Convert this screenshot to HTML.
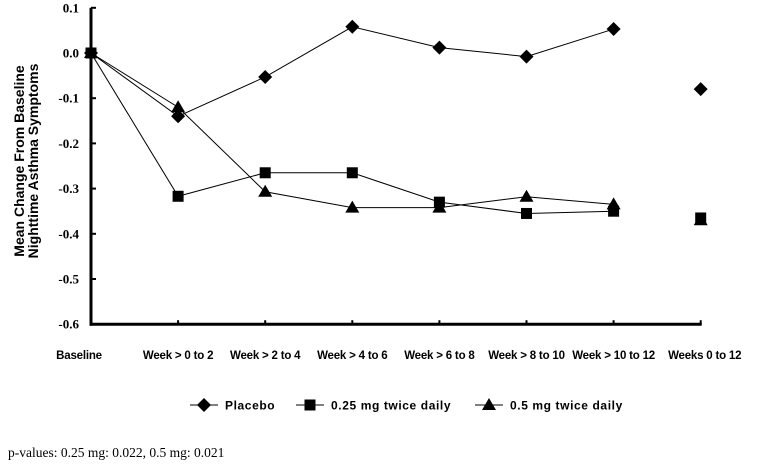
<!DOCTYPE html>
<html><head><meta charset="utf-8"><style>
html,body{margin:0;padding:0;background:#fff;}
svg{display:block;}
</style></head><body>
<svg id="chart" width="760" height="474" viewBox="0 0 760 474" xmlns="http://www.w3.org/2000/svg"></svg>
<script>
const categories = ["Baseline","Week > 0 to 2","Week > 2 to 4","Week > 4 to 6","Week > 6 to 8","Week > 8 to 10","Week > 10 to 12","Weeks 0 to 12"];
const placebo = [0, -0.14, -0.053, 0.058, 0.012, -0.008, 0.053, -0.08];
const dose025 = [0, -0.317, -0.265, -0.265, -0.33, -0.355, -0.35, -0.365];
const dose05 = [0, -0.12, -0.307, -0.342, -0.342, -0.318, -0.335, -0.37];
const yTicks = [0.1, 0.0, -0.1, -0.2, -0.3, -0.4, -0.5, -0.6];
const yTickLabels = ["0.1","0.0","-0.1","-0.2","-0.3","-0.4","-0.5","-0.6"];

const NS="http://www.w3.org/2000/svg";
const svg=document.getElementById('chart');
function x(i){return 91+i*87.1;}
function y(v){return 53-v*452;}
function mk(tag,attrs,parent){const e=document.createElementNS(NS,tag);for(const k in attrs)e.setAttribute(k,attrs[k]);(parent||svg).appendChild(e);return e;}
const F='"Liberation Sans", Arial, sans-serif';
const FS='"Liberation Serif", serif';

let e=mk('line',{x1:91,y1:y(0.1),x2:91,y2:y(-0.6)+1.5,stroke:'#000','stroke-width':3});


e=mk('line',{x1:89.5,y1:y(-0.6),x2:x(7)+1,y2:y(-0.6),stroke:'#000','stroke-width':3});


yTicks.forEach((t,i)=>{
  let l=mk('line',{x1:91,y1:y(t),x2:96,y2:y(t),stroke:'#000','stroke-width':2});
  
  
  let tx=mk('text',{x:79,y:y(t)+4.5,'text-anchor':'end','font-family':FS,'font-size':13,'font-weight':'bold',fill:'#000'});
  tx.textContent=yTickLabels[i];
  
  
});
categories.forEach((c,i)=>{
  if(i>0){let l=mk('line',{x1:x(i),y1:y(-0.6)-4,x2:x(i),y2:y(-0.6),stroke:'#000','stroke-width':2});
  
  }
  let tx=mk('text',{x:x(i)+(i==0?-12:0)+(i==7?4:0),y:359,'text-anchor':'middle','font-family':F,'font-size':11.5,'font-weight':'bold','letter-spacing':-0.2,fill:'#000'});
  tx.textContent=c;
  
  
});
let g=mk('g',{transform:'translate(26,161) rotate(-90)'});


let t1=mk('text',{x:0,y:-2,'text-anchor':'middle','font-family':F,'font-size':14,'font-weight':'bold'},g);t1.textContent='Mean Change From Baseline';
let t2=mk('text',{x:0,y:12,'text-anchor':'middle','font-family':F,'font-size':14,'font-weight':'bold'},g);t2.textContent='Nighttime Asthma Symptoms';

function marker(type,cx,cy,parent){
  if(type==='d') return mk('polygon',{points:`${cx},${cy-7} ${cx+7},${cy} ${cx},${cy+7} ${cx-7},${cy}`,fill:'#000'},parent);
  if(type==='s') return mk('rect',{x:cx-5.5,y:cy-5.5,width:11,height:11,fill:'#000'},parent);
  return mk('polygon',{points:`${cx},${cy-7} ${cx+7},${cy+5} ${cx-7},${cy+5}`,fill:'#000'},parent);
}
function series(vals,type,name){
  const grp=mk('g',{});
  
  
  const pts=vals.slice(0,7).map((v,i)=>x(i)+','+y(v)).join(' ');
  mk('polyline',{points:pts,fill:'none',stroke:'#000','stroke-width':1},grp);
  vals.forEach((v,i)=>{
    const m=marker(type,x(i),y(v),grp);
    
    
  });
}
series(placebo,'d','placebo-series');
series(dose025,'s','dose-025-series');
series(dose05,'t','dose-05-series');

const leg=[['d',190,'Placebo'],['s',296,'0.25 mg twice daily'],['t',475,'0.5 mg twice daily']];
leg.forEach(([tp,lx,lab])=>{
  const lg=mk('g',{});
  
  
  mk('line',{x1:lx,y1:405,x2:lx+28,y2:405,stroke:'#000','stroke-width':1},lg);
  marker(tp,lx+14,405,lg);
  const tx=mk('text',{x:lx+35,y:409.5,'font-family':F,'font-size':12,'font-weight':'bold','letter-spacing':0.6},lg);
  tx.textContent=lab;
});
let pv=mk('text',{x:8,y:457,'font-family':FS,'font-size':13.5,fill:'#000'});
pv.textContent='p-values: 0.25 mg: 0.022, 0.5 mg: 0.021';


</script>
</body></html>
